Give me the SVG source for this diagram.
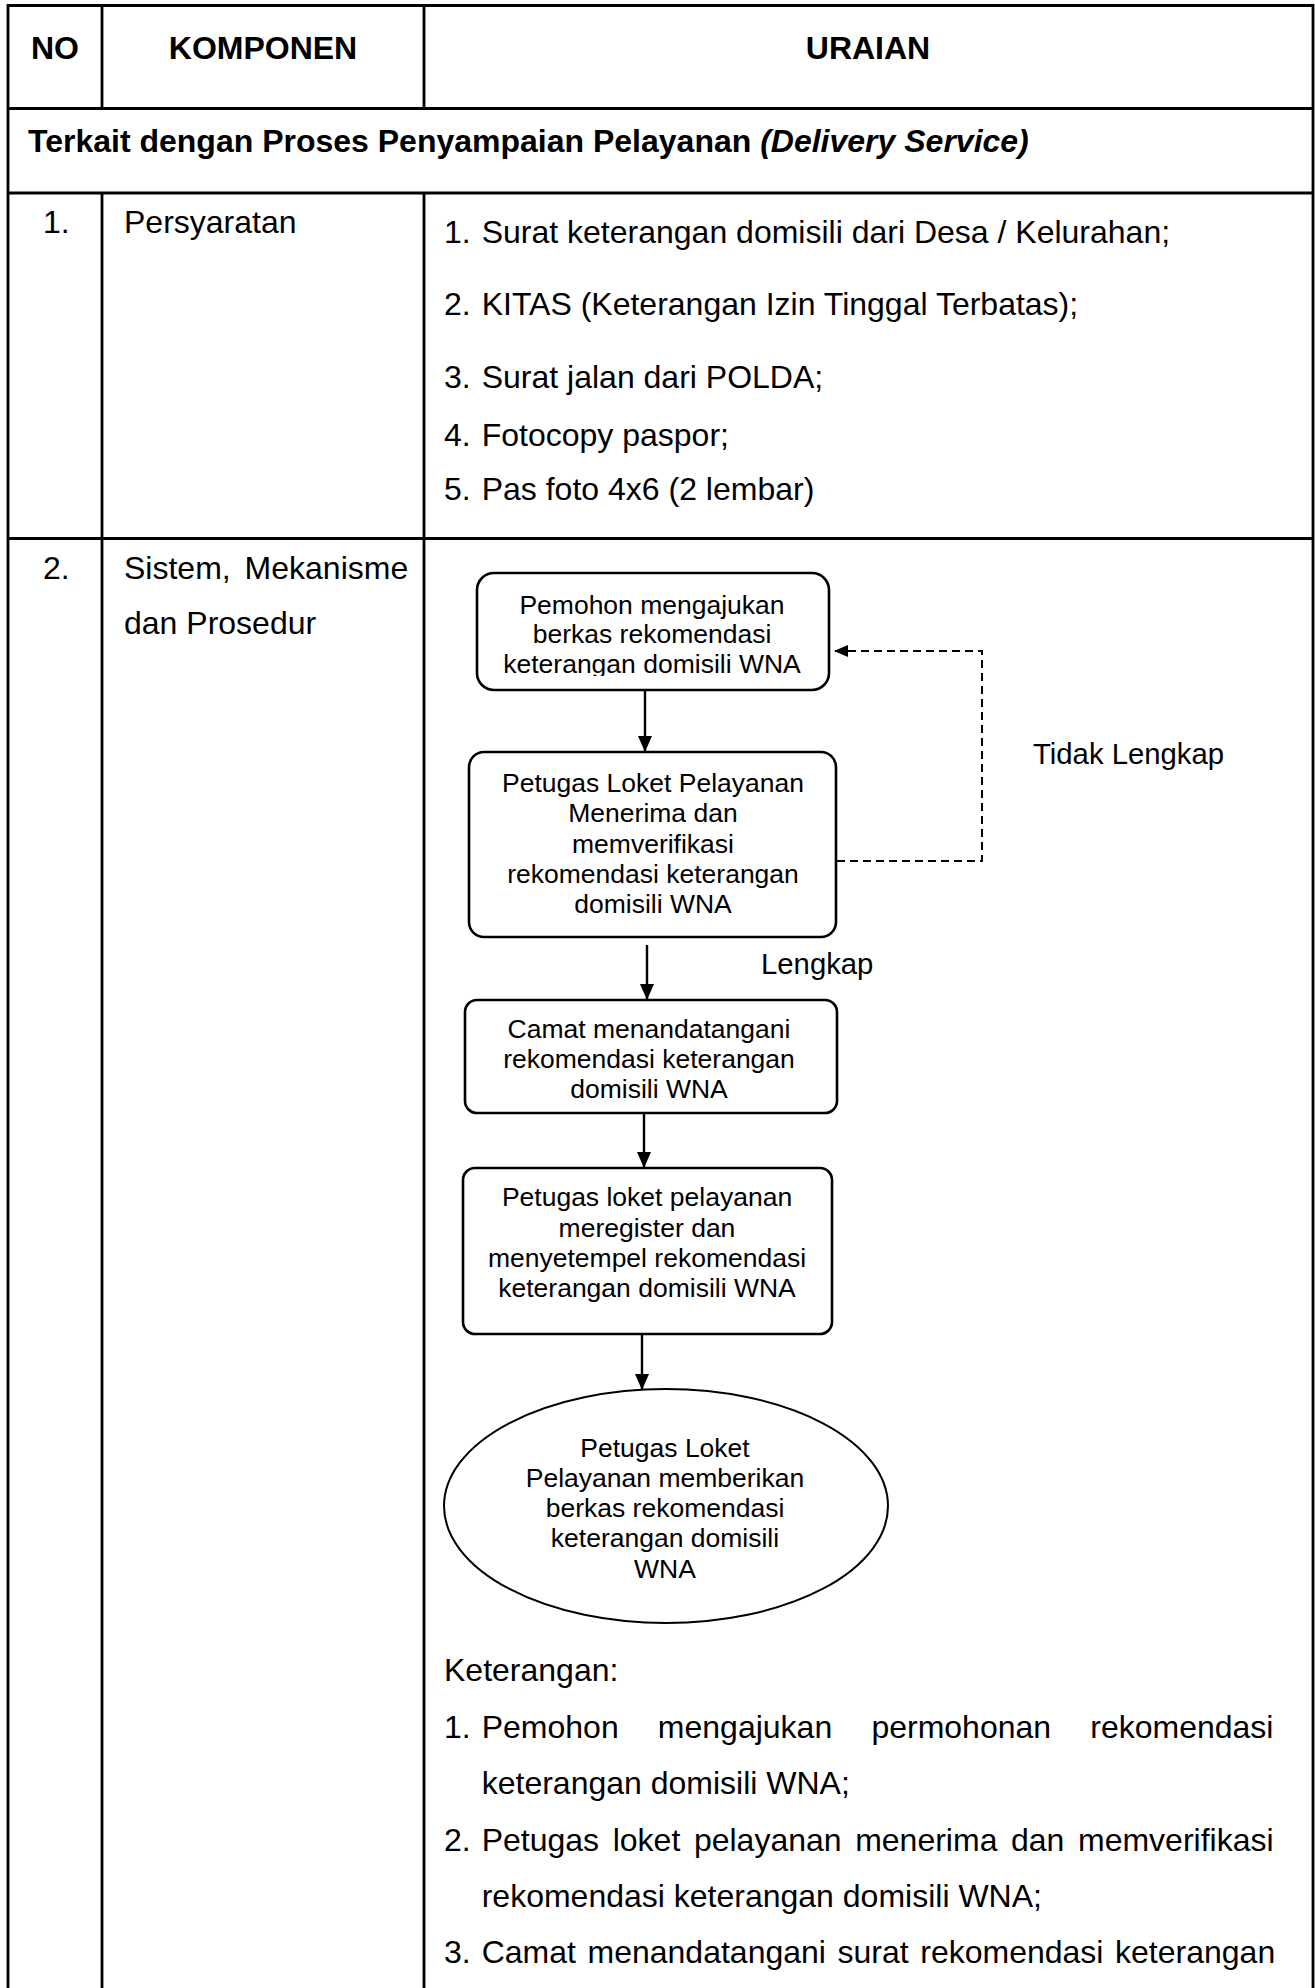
<svg xmlns="http://www.w3.org/2000/svg" width="1315" height="1988" viewBox="0 0 1315 1988">
  <style>
    text { font-family: "Liberation Sans", Arial, sans-serif; fill: #000; }
    .h { font-size: 32px; font-weight: bold; }
    .b { font-size: 32px; }
    .f { font-size: 26.5px; text-anchor: middle; }
    .lbl { font-size: 29.3px; }
    .grid { stroke: #000; stroke-width: 2.8; fill: none; }
    .box { stroke: #000; stroke-width: 2.6; fill: #fff; }
    .flow { stroke: #000; stroke-width: 2.4; fill: none; }
    .dash { stroke: #000; stroke-width: 2; fill: none; stroke-dasharray: 8 5; }
  </style>
  <defs>
    <marker id="arr" viewBox="0 0 16 14" refX="16" refY="7" markerWidth="16" markerHeight="14" orient="auto" markerUnits="userSpaceOnUse">
      <path d="M0,0 L16,7 L0,14 z" fill="#000"/>
    </marker>
    <marker id="arrSmall" viewBox="0 0 14 12" refX="14" refY="6" markerWidth="14" markerHeight="12" orient="auto" markerUnits="userSpaceOnUse">
      <path d="M0,0 L14,6 L0,12 z" fill="#000"/>
    </marker>
    <clipPath id="clipFirst">
      <rect x="477" y="573" width="352" height="103"/>
    </clipPath>
  </defs>

  <rect width="1315" height="1988" fill="#fff"/>

  <!-- table grid -->
  <g id="table">
    <line class="grid" x1="8" y1="5.5" x2="1313" y2="5.5"/>
    <line class="grid" x1="8" y1="108.5" x2="1313" y2="108.5"/>
    <line class="grid" x1="8" y1="193" x2="1313" y2="193"/>
    <line class="grid" x1="8" y1="538.5" x2="1313" y2="538.5"/>
    <line class="grid" x1="8" y1="4.1" x2="8" y2="1988"/>
    <line class="grid" x1="1313" y1="4.1" x2="1313" y2="1988"/>
    <line class="grid" x1="102" y1="5.5" x2="102" y2="108.5"/>
    <line class="grid" x1="424" y1="5.5" x2="424" y2="108.5"/>
    <line class="grid" x1="102" y1="193" x2="102" y2="1988"/>
    <line class="grid" x1="424" y1="193" x2="424" y2="1988"/>
  </g>

  <!-- header and section row -->
  <g id="header">
    <text class="h" x="55" y="59" text-anchor="middle">NO</text>
    <text class="h" x="263" y="59" text-anchor="middle">KOMPONEN</text>
    <text class="h" x="868" y="59" text-anchor="middle">URAIAN</text>
    <text class="h" x="28" y="152">Terkait dengan Proses Penyampaian Pelayanan <tspan font-style="italic">(Delivery Service)</tspan></text>
  </g>

  <!-- row 1: requirements -->
  <g id="row-persyaratan">
    <text class="b" x="43" y="233">1.</text>
    <text class="b" x="124" y="233">Persyaratan</text>
    <text class="b" x="444" y="243">1.</text>
    <text class="b" x="481.7" y="243">Surat keterangan domisili dari Desa / Kelurahan;</text>
    <text class="b" x="444" y="315">2.</text>
    <text class="b" x="481.7" y="315">KITAS (Keterangan Izin Tinggal Terbatas);</text>
    <text class="b" x="444" y="388">3.</text>
    <text class="b" x="481.7" y="388">Surat jalan dari POLDA;</text>
    <text class="b" x="444" y="446">4.</text>
    <text class="b" x="481.7" y="446">Fotocopy paspor;</text>
    <text class="b" x="444" y="500">5.</text>
    <text class="b" x="481.7" y="500">Pas foto 4x6 (2 lembar)</text>
  </g>

  <!-- row 2: system, mechanism and procedure -->
  <g id="row-prosedur">
    <text class="b" x="43" y="579">2.</text>
    <text class="b" x="124" y="579" word-spacing="5">Sistem, Mekanisme</text>
    <text class="b" x="124" y="634">dan Prosedur</text>
  </g>

  <!-- connectors -->
  <g id="connectors">
    <line class="flow" x1="645" y1="690" x2="645" y2="752" marker-end="url(#arr)"/>
    <line class="flow" x1="647" y1="945" x2="647" y2="1000" marker-end="url(#arr)"/>
    <line class="flow" x1="644" y1="1113" x2="644" y2="1168" marker-end="url(#arr)"/>
    <line class="flow" x1="642" y1="1334" x2="642" y2="1390" marker-end="url(#arr)"/>
    <path class="dash" d="M837,861 H982 V651 H834" marker-end="url(#arrSmall)"/>
    <text class="lbl" x="1033" y="764">Tidak Lengkap</text>
    <text class="lbl" x="761" y="974">Lengkap</text>
  </g>

  <!-- flow nodes -->
  <g id="node-pengajuan">
    <rect class="box" x="477" y="573" width="352" height="117" rx="17"/>
    <g clip-path="url(#clipFirst)">
      <text class="f" x="652" y="614">Pemohon mengajukan</text>
      <text class="f" x="652" y="643">berkas rekomendasi</text>
      <text class="f" x="652" y="673">keterangan domisili WNA</text>
    </g>
  </g>

  <g id="node-verifikasi">
    <rect class="box" x="469" y="752" width="367" height="185" rx="15"/>
    <text class="f" x="653" y="792">Petugas Loket Pelayanan</text>
    <text class="f" x="653" y="822">Menerima dan</text>
    <text class="f" x="653" y="853">memverifikasi</text>
    <text class="f" x="653" y="883">rekomendasi keterangan</text>
    <text class="f" x="653" y="913">domisili WNA</text>
  </g>

  <g id="node-tandatangan">
    <rect class="box" x="465" y="1000" width="372" height="113" rx="12"/>
    <text class="f" x="649" y="1038">Camat menandatangani</text>
    <text class="f" x="649" y="1068">rekomendasi keterangan</text>
    <text class="f" x="649" y="1098">domisili WNA</text>
  </g>

  <g id="node-register">
    <rect class="box" x="463" y="1168" width="369" height="166" rx="12"/>
    <text class="f" x="647" y="1206">Petugas loket pelayanan</text>
    <text class="f" x="647" y="1237">meregister dan</text>
    <text class="f" x="647" y="1267">menyetempel rekomendasi</text>
    <text class="f" x="647" y="1297">keterangan domisili WNA</text>
  </g>

  <g id="node-selesai">
    <ellipse class="box" cx="666" cy="1506" rx="222" ry="117" style="stroke-width:2"/>
    <text class="f" x="665" y="1457">Petugas Loket</text>
    <text class="f" x="665" y="1487">Pelayanan memberikan</text>
    <text class="f" x="665" y="1517">berkas rekomendasi</text>
    <text class="f" x="665" y="1547">keterangan domisili</text>
    <text class="f" x="665" y="1578">WNA</text>
  </g>

  <!-- explanation list -->
  <g id="keterangan">
    <text class="b" x="444" y="1681">Keterangan:</text>
    <text class="b" x="444" y="1738">1.</text>
    <text class="b" x="481.7" y="1738" word-spacing="30.3">Pemohon mengajukan permohonan rekomendasi</text>
    <text class="b" x="481.7" y="1794">keterangan domisili WNA;</text>
    <text class="b" x="444" y="1851">2.</text>
    <text class="b" x="481.7" y="1851" word-spacing="4.7">Petugas loket pelayanan menerima dan memverifikasi</text>
    <text class="b" x="481.7" y="1907">rekomendasi keterangan domisili WNA;</text>
    <text class="b" x="444" y="1963">3.</text>
    <text class="b" x="481.7" y="1963" word-spacing="2.7">Camat menandatangani surat rekomendasi keterangan</text>
  </g>
</svg>
